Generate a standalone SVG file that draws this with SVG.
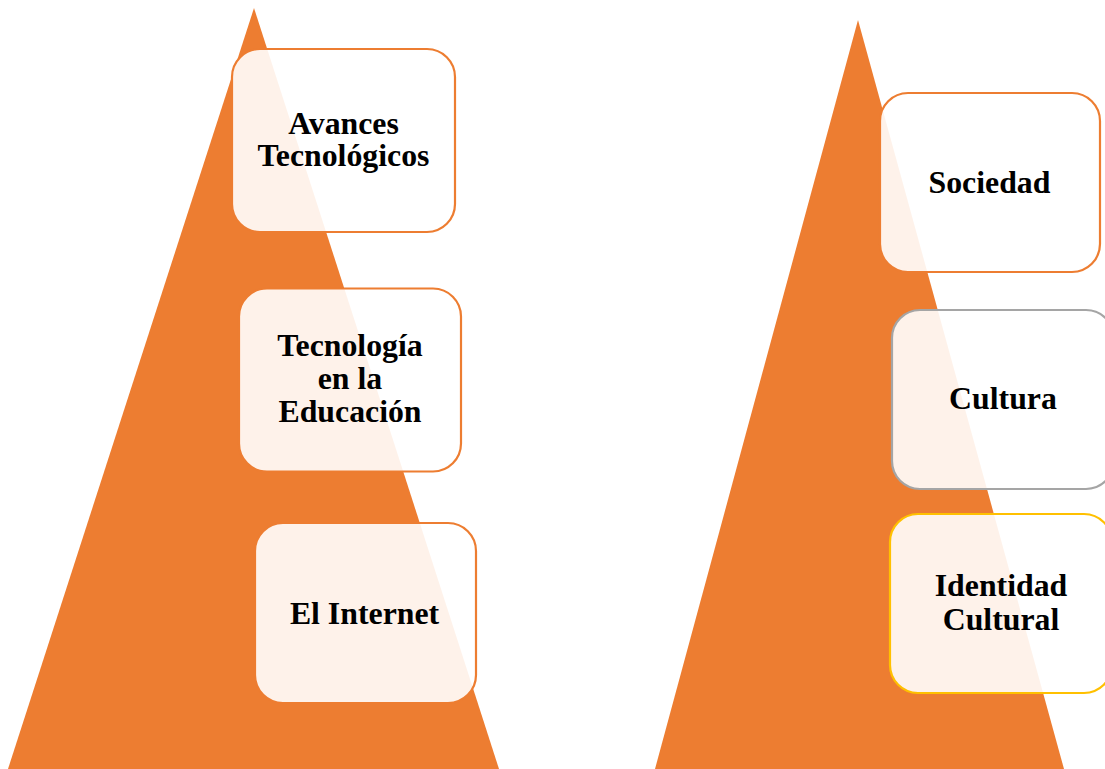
<svg xmlns="http://www.w3.org/2000/svg" width="1105" height="769" viewBox="0 0 1105 769">
<style>
.tri{fill:#ED7D31;}
.box{fill:#FFFFFF;fill-opacity:0.9;stroke-width:2.2;}
.o{stroke:#ED7D31;}
.g{stroke:#A5A5A5;}
.y{stroke:#FFC000;}
.t{font-family:"Liberation Serif","Times New Roman",serif;font-weight:bold;font-size:31.8px;fill:#000000;text-anchor:middle;}
</style>
<rect width="1105" height="769" fill="#FFFFFF"/>
<g id="triangle-left"><polygon class="tri" points="254,8 499,769 8,769"/></g>
<g id="triangle-right"><polygon class="tri" points="858,20 1064,769 655,769"/></g>
<g id="connectors"></g>
<g id="node-avances">
<rect class="box o" x="232" y="49" width="223" height="183" rx="28" ry="28"/>
<text class="t" x="343.5" y="133.5">Avances</text>
<text class="t" x="343.5" y="166">Tecnológicos</text>
</g>
<g id="node-tecnologia">
<rect class="box o" x="239" y="288.5" width="222" height="183" rx="28" ry="28"/>
<text class="t" x="350" y="356">Tecnología</text>
<text class="t" x="350" y="389">en la</text>
<text class="t" x="350" y="422">Educación</text>
</g>
<g id="node-internet">
<rect class="box o" x="255" y="523" width="221" height="180" rx="28" ry="28"/>
<text class="t" x="364.5" y="623.5">El Internet</text>
</g>
<g id="node-sociedad">
<rect class="box o" x="880" y="93" width="220" height="179" rx="28" ry="28"/>
<text class="t" x="989.5" y="193">Sociedad</text>
</g>
<g id="node-cultura">
<rect class="box g" x="892" y="310" width="222" height="179" rx="28" ry="28"/>
<text class="t" x="1003" y="409">Cultura</text>
</g>
<g id="node-identidad">
<rect class="box y" x="890" y="514" width="222" height="179" rx="28" ry="28"/>
<text class="t" x="1001" y="596">Identidad</text>
<text class="t" x="1001" y="629.5">Cultural</text>
</g>
</svg>
